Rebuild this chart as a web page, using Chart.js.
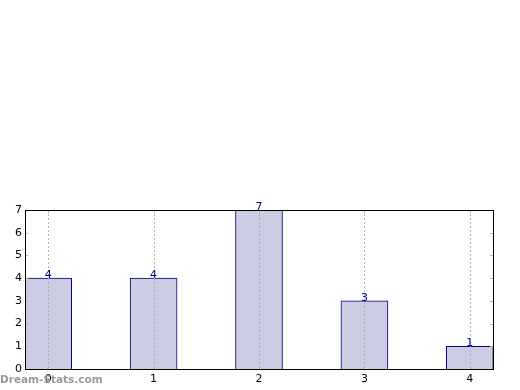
<!DOCTYPE html>
<html>
<head>
<meta charset="utf-8">
<script src="https://cdn.jsdelivr.net/npm/chart.js@4"></script>
<style>
	html, body { margin: 0; padding: 0; background: #fff; }
	#wrap { width: 520px; height: 390px; }
</style>
</head>
<body>
<div id="wrap"><canvas id="chart" width="520" height="390"></canvas></div>
<script>
// Chart data.
const categories = [0, 1, 2, 3, 4];
const counts = [4, 4, 7, 3, 1];
const yTicks = [0, 1, 2, 3, 4, 5, 6, 7];

const tickFont = { family: 'DejaVu Sans', size: 11 };

// Dotted grid over the bars, frame, inward tick marks, value labels and the watermark.
const decorations = {
	id: 'decorations',
	afterDraw(chart) {
		const ctx = chart.ctx;
		const area = chart.chartArea;
		const x = chart.scales.x;
		const y = chart.scales.y;
		ctx.save();

		// Dotted vertical grid, drawn above the bars.
		ctx.strokeStyle = '#b4b4b4';
		ctx.lineWidth = 1;
		ctx.setLineDash([2, 2]);
		ctx.beginPath();
		for (const c of categories) {
			const px = Math.round(x.getPixelForValue(c)) + 0.5;
			ctx.moveTo(px, area.top); ctx.lineTo(px, area.bottom);
		}
		ctx.stroke();
		ctx.setLineDash([]);

		// Small inward tick marks.
		ctx.strokeStyle = '#b0b0b0';
		ctx.beginPath();
		for (const t of yTicks) {
			const py = Math.round(y.getPixelForValue(t)) + 0.5;
			ctx.moveTo(area.left, py); ctx.lineTo(area.left + 3, py);
			ctx.moveTo(area.right, py); ctx.lineTo(area.right - 3, py);
		}
		for (const c of categories) {
			const px = Math.round(x.getPixelForValue(c)) + 0.5;
			ctx.moveTo(px, area.bottom); ctx.lineTo(px, area.bottom - 3);
			ctx.moveTo(px, area.top); ctx.lineTo(px, area.top + 3);
		}
		ctx.stroke();

		// Black frame round the plot area.
		ctx.strokeStyle = '#000';
		ctx.strokeRect(Math.round(area.left) + 0.5, Math.round(area.top) + 0.5,
			Math.round(area.right - area.left), Math.round(area.bottom - area.top));

		// Value labels on top of the bars.
		ctx.fillStyle = '#00008b';
		ctx.font = '11px DejaVu Sans';
		ctx.textAlign = 'center';
		ctx.textBaseline = 'middle';
		chart.getDatasetMeta(0).data.forEach(function (bar, i) {
			ctx.fillText(String(counts[i]), bar.x, bar.y - 3);
		});

		// Watermark.
		ctx.fillStyle = '#999';
		ctx.font = 'bold 10.5px DejaVu Sans';
		ctx.textAlign = 'left';
		ctx.fillText('Dream-Stats.com', 0, 380);
		ctx.restore();
	}
};

new Chart(document.getElementById('chart'), {
	type: 'bar',
	data: {
		datasets: [{
			data: categories.map((c, i) => ({ x: c, y: counts[i] })),
			backgroundColor: 'rgb(204, 204, 226)',
			borderColor: '#000080',
			borderWidth: 1,
			barThickness: 47
		}]
	},
	options: {
		responsive: false,
		animation: false,
		layout: { padding: { top: 210, right: 27, left: 0, bottom: 0 } },
		plugins: { legend: { display: false }, tooltip: { enabled: false } },
		scales: {
			x: {
				type: 'linear',
				min: -0.22,
				max: 4.22,
				offset: false,
				afterFit: s => { s.height = 21; },
				afterBuildTicks: s => { s.ticks = categories.map(v => ({ value: v })); },
				grid: { display: false, drawTicks: false },
				border: { display: false },
				ticks: { color: '#000', font: tickFont, padding: 4 }
			},
			y: {
				min: 0,
				max: 7,
				afterFit: s => { s.width = 25; },
				afterBuildTicks: s => { s.ticks = yTicks.map(v => ({ value: v })); },
				grid: { display: false, drawTicks: false },
				border: { display: false },
				ticks: { color: '#000', font: tickFont, padding: 3 }
			}
		}
	},
	plugins: [decorations]
});
</script>
</body>
</html>
